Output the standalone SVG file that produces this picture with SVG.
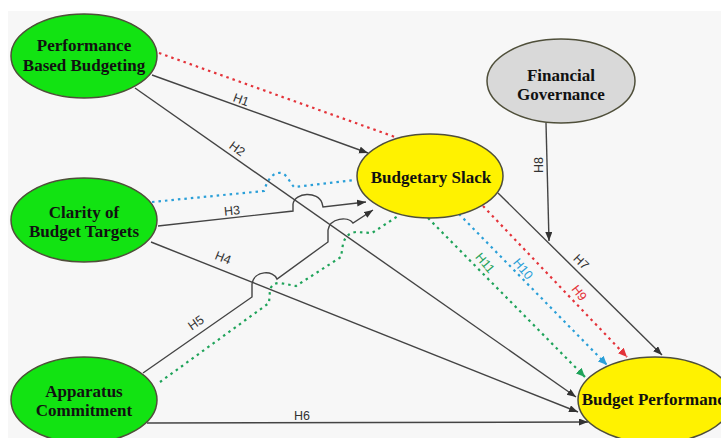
<svg xmlns="http://www.w3.org/2000/svg" width="721" height="438" viewBox="0 0 721 438">
  <style>
    .node { stroke: #4f4f3a; stroke-width: 1.5; }
    .green { fill: #12e312; }
    .yellow { fill: #fff200; }
    .grey { fill: #d9d9d9; }
    .ntext { font-family: "Liberation Serif", "Times New Roman", serif; font-weight: bold; font-size: 17px; fill: #111; text-anchor: middle; }
    .edge { fill: none; stroke: #444; stroke-width: 1.4; }
    .dot { fill: none; stroke-width: 2.2; stroke-dasharray: 2.5 4; }
    .red { stroke: #e4333a; }
    .blue { stroke: #2a9fd8; }
    .grn { stroke: #1fa35a; }
    .lbl { font-family: "Liberation Sans", Arial, sans-serif; font-size: 12.5px; fill: #333; text-anchor: middle; dominant-baseline: central; }
  </style>
  <defs>
    <marker id="ah" markerUnits="userSpaceOnUse" markerWidth="10" markerHeight="8" refX="9" refY="3.5" orient="auto">
      <path d="M0,0 L9,3.5 L0,7 z" fill="#333"/>
    </marker>
    <marker id="ah-red" markerUnits="userSpaceOnUse" markerWidth="10" markerHeight="9" refX="9" refY="4" orient="auto">
      <path d="M0,0 L9,4 L0,8 z" fill="#e4333a"/>
    </marker>
    <marker id="ah-blue" markerUnits="userSpaceOnUse" markerWidth="10" markerHeight="9" refX="9" refY="4" orient="auto">
      <path d="M0,0 L9,4 L0,8 z" fill="#2a9fd8"/>
    </marker>
    <marker id="ah-green" markerUnits="userSpaceOnUse" markerWidth="10" markerHeight="9" refX="9" refY="4" orient="auto">
      <path d="M0,0 L9,4 L0,8 z" fill="#1fa35a"/>
    </marker>
  </defs>

  <!-- canvas -->
  <rect x="0" y="0" width="721" height="438" fill="#ffffff"/>
  <rect x="8" y="11" width="713" height="427" fill="#f7f7f7"/>

  <!-- paths between constructs -->
  <g id="connectors">
    <!-- mediation paths (dotted) -->
    <path class="dot red" d="M159,53 L395,137"/>
    <path class="dot blue" d="M152,202 L264,191 C268,178 274,172 281,173 C287,174 290,183 294,187 L355,180"/>
    <path class="dot grn" d="M160,382 L269,303 L270,290 Q272,283 280,283 L296,286 L341,257 L343,244 Q346,233 356,232 L372,233 L398,216"/>
    <path class="dot red" d="M483,206 L627,357" marker-end="url(#ah-red)"/>
    <path class="dot blue" d="M459,214 L607,365" marker-end="url(#ah-blue)"/>
    <path class="dot grn" d="M428,218 L585,377" marker-end="url(#ah-green)"/>

    <!-- direct paths -->
    <path class="edge" d="M152,75 L368,153" marker-end="url(#ah)"/>
    <path class="edge" d="M135,88 L576,397" marker-end="url(#ah)"/>
    <path class="edge" d="M158,226 L293,211 L293,204 C295,192 318,191 322,203 L323,207 L366,202" marker-end="url(#ah)"/>
    <path class="edge" d="M151,242 L578,412" marker-end="url(#ah)"/>
    <path class="edge" d="M143,373 L252,297 L252,284 C254,270 274,270 277,279 L328,242 L328,230 C330,218 348,216 353,223 L373,210" marker-end="url(#ah)"/>
    <path class="edge" d="M147,423 L588,422" marker-end="url(#ah)"/>
    <path class="edge" d="M498,193 L662,355" marker-end="url(#ah)"/>
    <path class="edge" d="M546,123 L549,241" marker-end="url(#ah)"/>

    <!-- hypothesis labels -->
    <text class="lbl" transform="translate(241,100) rotate(20)">H1</text>
    <text class="lbl" transform="translate(237,149) rotate(36)">H2</text>
    <text class="lbl" transform="translate(232,211) rotate(-6)">H3</text>
    <text class="lbl" transform="translate(223,258) rotate(22)">H4</text>
    <text class="lbl" transform="translate(196,323) rotate(-35)">H5</text>
    <text class="lbl" transform="translate(302,416)">H6</text>
    <text class="lbl" transform="translate(581,262) rotate(45)">H7</text>
    <text class="lbl" transform="translate(539,165) rotate(-90)">H8</text>
    <text class="lbl" transform="translate(579,293) rotate(52)" style="fill:#e4333a">H9</text>
    <text class="lbl" transform="translate(523,269) rotate(50)" style="fill:#2a9fd8">H10</text>
    <text class="lbl" transform="translate(485,263) rotate(50)" style="fill:#1fa35a">H11</text>
  </g>

  <g id="performance-based-budgeting">
    <ellipse class="node green" cx="84" cy="56" rx="73" ry="42"/>
    <text class="ntext" x="84" y="51">Performance</text>
    <text class="ntext" x="84" y="71">Based Budgeting</text>
  </g>

  <g id="clarity-of-budget-targets">
    <ellipse class="node green" cx="84" cy="220" rx="73" ry="42"/>
    <text class="ntext" x="84" y="218">Clarity of</text>
    <text class="ntext" x="84" y="237">Budget Targets</text>
  </g>

  <g id="apparatus-commitment">
    <ellipse class="node green" cx="84" cy="400" rx="73" ry="43"/>
    <text class="ntext" x="84" y="397">Apparatus</text>
    <text class="ntext" x="84" y="416">Commitment</text>
  </g>

  <g id="budgetary-slack">
    <ellipse class="node yellow" cx="430" cy="176" rx="73" ry="42"/>
    <text class="ntext" x="431" y="183">Budgetary Slack</text>
  </g>

  <g id="financial-governance">
    <ellipse class="node grey" cx="561" cy="81" rx="74" ry="42"/>
    <text class="ntext" x="561" y="81">Financial</text>
    <text class="ntext" x="561" y="100">Governance</text>
  </g>

  <g id="budget-performance">
    <ellipse class="node yellow" cx="655" cy="400" rx="77" ry="43"/>
    <text class="ntext" x="657" y="405">Budget Performance</text>
  </g>
</svg>
